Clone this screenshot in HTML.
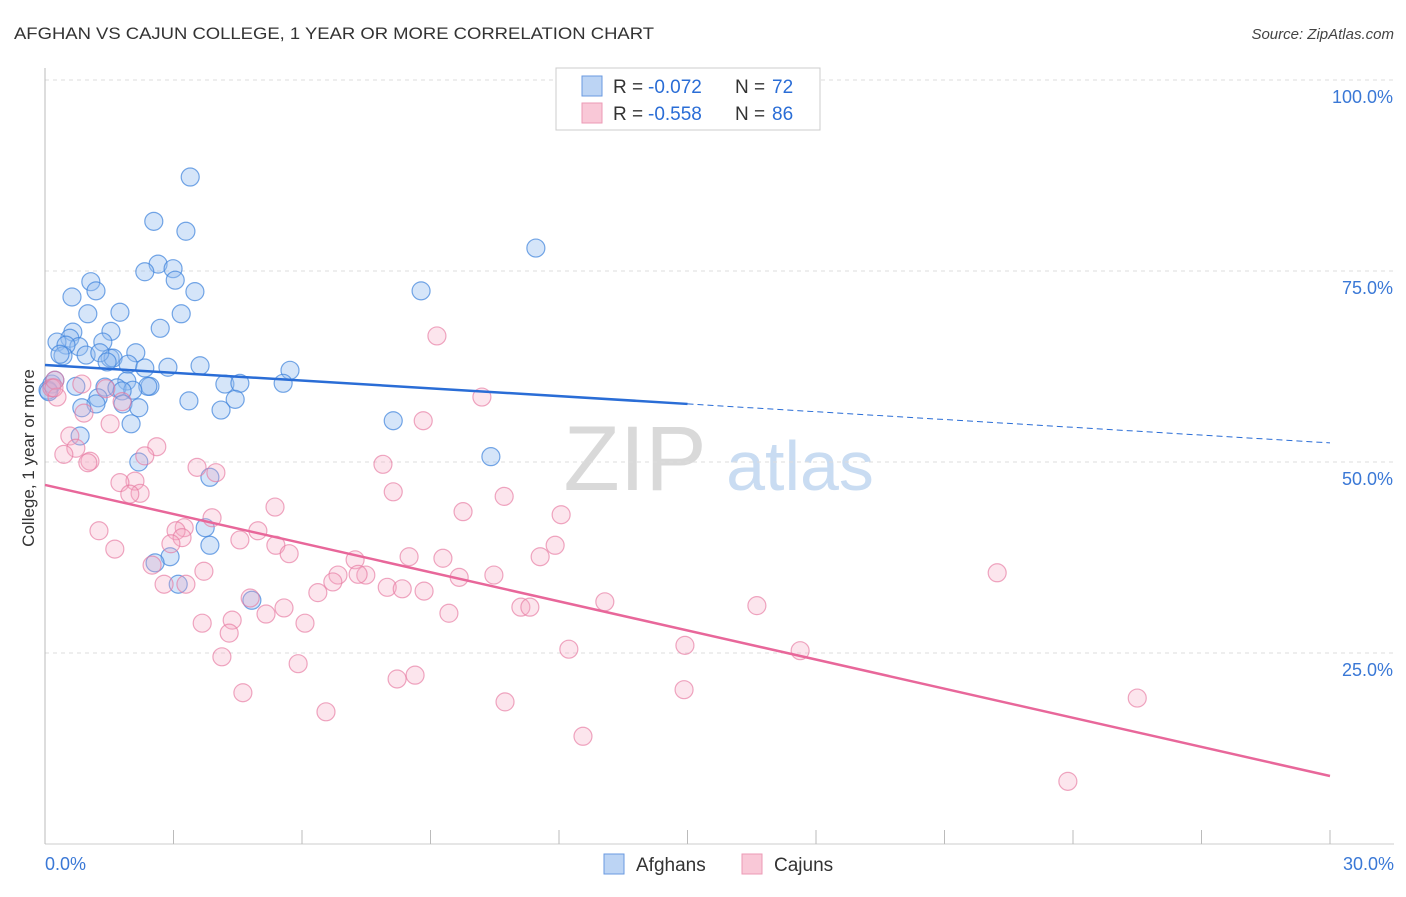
<!DOCTYPE html>
<html><head><meta charset="utf-8"><style>
body{margin:0;background:#fff;font-family:"Liberation Sans",sans-serif;}
svg text{font-family:"Liberation Sans",sans-serif;}
</style></head><body>
<svg id="chart" width="1406" height="892" xmlns="http://www.w3.org/2000/svg">
<text x="14" y="39" font-size="17" fill="#333" textLength="640" lengthAdjust="spacingAndGlyphs">AFGHAN VS CAJUN COLLEGE, 1 YEAR OR MORE CORRELATION CHART</text>
<text x="1394" y="39" font-size="15" fill="#444" font-style="italic" text-anchor="end">Source: ZipAtlas.com</text>
<g>
<text x="635" y="490" font-size="92" fill="#d9d9d9" font-family="Liberation Serif,serif" text-anchor="middle">ZIP</text>
<text x="800" y="490" font-size="70" fill="#c9dcf2" text-anchor="middle">atlas</text>
</g>
<g id="grid"></g>
<g id="axes"></g>
<g id="marks"></g>
<text transform="translate(34,458) rotate(-90)" font-size="17" fill="#333" text-anchor="middle">College, 1 year or more</text>
<g>
<rect x="556" y="68" width="264" height="62" fill="#fff" stroke="#ccc"/>
<rect x="582" y="76" width="20" height="20" fill="#bcd4f4" stroke="#6a9ae0"/>
<rect x="582" y="103" width="20" height="20" fill="#f9c8d7" stroke="#ec9ab6"/>
<text x="613" y="93" font-size="19" fill="#333">R =</text>
<text x="648" y="93" font-size="19" fill="#2a6dd6">-0.072</text>
<text x="735" y="93" font-size="19" fill="#333">N =</text>
<text x="772" y="93" font-size="19" fill="#2a6dd6">72</text>
<text x="613" y="120" font-size="19" fill="#333">R =</text>
<text x="648" y="120" font-size="19" fill="#2a6dd6">-0.558</text>
<text x="735" y="120" font-size="19" fill="#333">N =</text>
<text x="772" y="120" font-size="19" fill="#2a6dd6">86</text>
</g>
<g>
<rect x="604" y="854" width="20" height="20" fill="#bcd4f4" stroke="#6a9ae0"/>
<text x="636" y="871" font-size="19" fill="#333">Afghans</text>
<rect x="742" y="854" width="20" height="20" fill="#f9c8d7" stroke="#ec9ab6"/>
<text x="774" y="871" font-size="19" fill="#333">Cajuns</text>
</g>
</svg>
<script>
const afghanX=[3.39,2.54,3.29,11.46,2.64,2.33,2.99,3.04,1.07,1.19,3.50,0.63,8.78,1.00,1.75,3.18,2.69,1.54,0.65,0.58,0.28,0.79,1.35,0.49,0.42,0.96,1.52,1.59,2.12,1.28,3.62,1.94,5.72,2.33,2.87,0.16,0.07,0.72,1.40,1.91,1.68,2.45,2.40,4.20,4.55,5.56,2.05,1.80,1.24,1.19,1.82,0.86,3.36,4.44,2.19,4.11,2.01,8.13,0.82,10.41,2.19,3.85,3.74,3.85,2.92,2.57,3.11,4.83,0.09,0.23,0.35,1.45];
const afghanY=[87.3,81.5,80.2,78.0,75.9,74.9,75.3,73.8,73.6,72.4,72.3,71.6,72.4,69.4,69.6,69.4,67.5,67.1,67.0,66.2,65.7,65.1,65.7,65.3,63.9,64.0,63.6,63.6,64.3,64.3,62.6,62.8,62.0,62.3,62.4,60.2,59.4,59.9,59.8,60.6,59.7,59.9,59.9,60.2,60.3,60.3,59.4,59.3,58.4,57.6,57.6,57.1,58.0,58.2,57.1,56.8,55.0,55.4,53.4,50.7,50.0,48.0,41.4,39.1,37.6,36.8,34.0,31.9,59.2,60.7,64.1,63.1];
const cajunX=[9.15,10.20,8.83,0.23,0.16,0.28,0.21,0.86,0.91,1.42,1.80,1.52,0.58,0.72,0.44,1.05,1.00,2.61,2.33,3.55,3.99,7.89,2.10,1.75,2.22,1.98,8.13,10.72,5.37,9.76,12.05,3.90,1.26,3.25,3.06,3.20,2.94,4.55,4.97,5.39,11.91,1.63,5.70,8.50,9.29,2.50,7.24,6.84,7.49,7.31,9.67,10.48,11.56,2.78,3.29,3.71,6.72,6.37,7.99,8.34,8.85,13.07,5.58,4.37,11.11,11.32,9.43,16.62,22.23,5.16,3.67,4.30,6.07,4.79,14.94,17.63,12.23,4.13,5.91,8.64,8.22,14.92,4.62,6.56,10.74,25.50,12.56,23.88];
const cajunY=[66.5,58.5,55.4,60.7,59.7,58.5,59.7,60.2,56.4,59.6,57.9,55.0,53.4,51.8,51.0,50.1,49.9,52.0,50.8,49.3,48.6,49.7,47.5,47.3,45.9,45.8,46.1,45.5,44.1,43.5,43.1,42.7,41.0,41.4,41.0,40.1,39.3,39.8,41.0,39.1,39.1,38.6,38.0,37.6,37.4,36.5,37.2,35.2,35.2,35.3,34.9,35.2,37.6,34.0,34.0,35.7,34.3,32.9,33.6,33.4,33.1,31.7,30.9,29.3,31.0,31.0,30.2,31.2,35.5,30.1,28.9,27.6,28.9,32.2,26.0,25.3,25.5,24.5,23.6,22.1,21.6,20.2,19.8,17.3,18.6,19.1,14.1,8.2];
const afghanTrend=[62.7,52.5];
const cajunTrend=[47.0,8.9];
const yTicks=[100,75,50,25];
const yTickLabels=["100.0%","75.0%","50.0%","25.0%"];
const xTickLabels=["0.0%","30.0%"];

const NS="http://www.w3.org/2000/svg";
const X0=45,X1=1330,Y0=844,Y100=80;
const xs=v=>X0+(v/30)*(X1-X0);
const ys=v=>Y0-(v/100)*(Y0-Y100);
function mk(tag,attrs,parent){const e=document.createElementNS(NS,tag);for(const k in attrs)e.setAttribute(k,attrs[k]);parent.appendChild(e);return e;}
const grid=document.getElementById('grid'),axes=document.getElementById('axes'),marks=document.getElementById('marks');
yTicks.forEach((t,i)=>{
 const l=mk('line',{x1:X0,x2:1394,y1:ys(t),y2:ys(t),stroke:'#ddd','stroke-dasharray':'4,4'},grid);
 
 
 const tx=mk('text',{x:1393,y:ys(t)+23,'font-size':18,fill:'#3a78d6','text-anchor':'end'},axes);
 tx.textContent=yTickLabels[i];
 
 
});
const ax=mk('line',{x1:X0,x2:X0,y1:68,y2:Y0,stroke:'#bbb'},axes);


const bx=mk('line',{x1:X0,x2:1394,y1:Y0,y2:Y0,stroke:'#ccc'},axes);


for(let i=0;i<=10;i++){
 const t=mk('line',{x1:xs(i*3),x2:xs(i*3),y1:830,y2:Y0,stroke:'#bbb'},axes);
 
 
}
[[0,'start',45],[30,'end',1394]].forEach((d,i)=>{
 const t=mk('text',{x:d[2],y:870,'font-size':18,fill:'#3a78d6','text-anchor':d[1]},axes);
 t.textContent=xTickLabels[i];
 
 
});
function pts(X,Y,fill,stroke,name){
 X.forEach((x,i)=>{
  const c=mk('circle',{cx:xs(x),cy:ys(Y[i]),r:9,fill:fill,stroke:stroke,'stroke-width':1.2},marks);
  
  
 });
}
pts(afghanX,afghanY,'rgba(150,190,240,0.4)','rgba(60,130,220,0.7)','afghan-point');
pts(cajunX,cajunY,'rgba(245,170,195,0.3)','rgba(230,120,160,0.65)','cajun-point');
const ay=x=>afghanTrend[0]+(afghanTrend[1]-afghanTrend[0])*x/30;
const l1=mk('line',{x1:xs(0),y1:ys(ay(0)),x2:xs(15),y2:ys(ay(15)),stroke:'#2a6dd6','stroke-width':2.5},marks);


const l2=mk('line',{x1:xs(15),y1:ys(ay(15)),x2:xs(30),y2:ys(ay(30)),stroke:'#2a6dd6','stroke-width':1,'stroke-dasharray':'6,4'},marks);


const l3=mk('line',{x1:xs(0),y1:ys(cajunTrend[0]),x2:xs(30),y2:ys(cajunTrend[1]),stroke:'#e8679a','stroke-width':2.5},marks);


</script>
</body></html>
